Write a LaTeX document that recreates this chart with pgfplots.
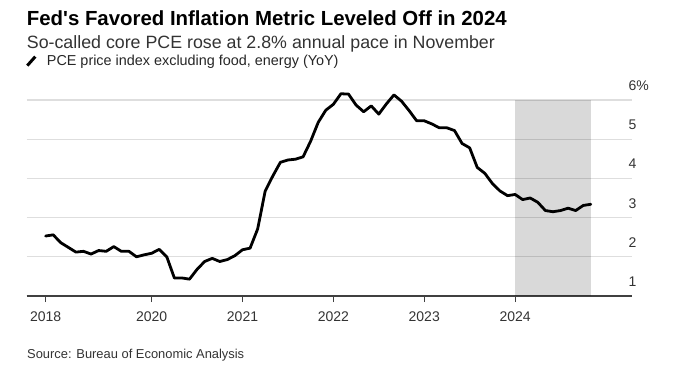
\documentclass[border=0pt]{standalone}
\usepackage{pgfplots}
\pgfplotsset{compat=1.18}
\usepackage{fontspec}
\setmainfont{Liberation Sans}
\definecolor{gridc}{HTML}{DEDEDE}
\definecolor{txt}{HTML}{333333}
\begin{document}
\begin{tikzpicture}[x=1pt,y=1pt]
\useasboundingbox (0,0) rectangle (689,-378);
\node[anchor=base west, inner sep=0pt] at (26.7,-25.7) {\fontsize{20.4}{24}\selectfont\bfseries Fed\textquotesingle s Favored Inflation Metric Leveled Off in 2024};
\node[anchor=base west, inner sep=0pt, text=txt] at (26.7,-48.5) {\fontsize{17.8}{20}\selectfont So-called core PCE rose at 2.8\% annual pace in November};
\draw[line width=3pt, black] (27.3,-65.6) -- (35.3,-56.6);
\node[anchor=base west, inner sep=0pt, text=black!85] at (46.7,-65.5) {\fontsize{14.4}{17}\selectfont PCE price index excluding food, energy (YoY)};
\node[anchor=base west, inner sep=0pt, text=txt] at (27,-358) {\fontsize{12.9}{15}\selectfont Source: Bureau of Economic Analysis};
\begin{axis}[
  at={(26.7pt,-296pt)}, anchor=south west,
  scale only axis, width=605pt, height=205.8pt,
  xmin=-16.5, xmax=63.4, ymin=1, ymax=6.25,
  axis x line*=bottom, axis y line*=right,
  y axis line style={draw=none},
  x axis line style={draw=black!75, line width=1.3pt},
  xtick={-14,0,12,24,36,48},
  xticklabels={2018,2020,2021,2022,2023,2024},
  ytick={1,2,3,4,5,6},
  yticklabels={1,2,3,4,5,6\%},
  tick align=outside, major tick length=6pt,
  xtick style={draw=black!75, line width=1.1pt},
  ytick style={draw=none},
  ymajorgrids, major grid style={draw=gridc, line width=1.3pt},
  xticklabel style={anchor=base, inner sep=0pt, yshift=-19pt, font=\fontsize{14}{16}\selectfont, text=txt},
  yticklabel style={anchor=base west, inner sep=0pt, xshift=-9.4pt, yshift=9.5pt, font=\fontsize{14}{16}\selectfont, text=txt},
  /pgf/number format/assume math mode=true,
  clip=false,
]
\addplot[draw=none, fill=black, fill opacity=0.15] coordinates {(48,1) (58,1) (58,6) (48,6)} -- cycle;
\addplot[black, line width=2.8pt, line join=round, line cap=round] coordinates {
(-14,2.53) (-13,2.56) (-12,2.36) (-11,2.24) (-10,2.12) (-9,2.14) (-8,2.07) (-7,2.16)
(-6,2.14) (-5,2.26) (-4,2.14) (-3,2.14) (-2,2.00) (-1,2.05) (0,2.09) (1,2.19)
(2,2.00) (3,1.46) (4,1.46) (5,1.43) (6,1.68) (7,1.88) (8,1.96) (9,1.88)
(10,1.93) (11,2.03) (12,2.18) (13,2.22) (14,2.71) (15,3.68) (16,4.06) (17,4.41)
(18,4.47) (19,4.49) (20,4.55) (21,4.95) (22,5.43) (23,5.74) (24,5.89) (25,6.16)
(26,6.15) (27,5.87) (28,5.70) (29,5.85) (30,5.64) (31,5.90) (32,6.13) (33,5.97)
(34,5.73) (35,5.47) (36,5.47) (37,5.39) (38,5.29) (39,5.29) (40,5.22) (41,4.89)
(42,4.78) (43,4.28) (44,4.13) (45,3.87) (46,3.68) (47,3.56) (48,3.59) (49,3.46)
(50,3.50) (51,3.39) (52,3.18) (53,3.15) (54,3.18) (55,3.24) (56,3.18) (57,3.31)
(58,3.34)
};
\end{axis}
\end{tikzpicture}
\end{document}
